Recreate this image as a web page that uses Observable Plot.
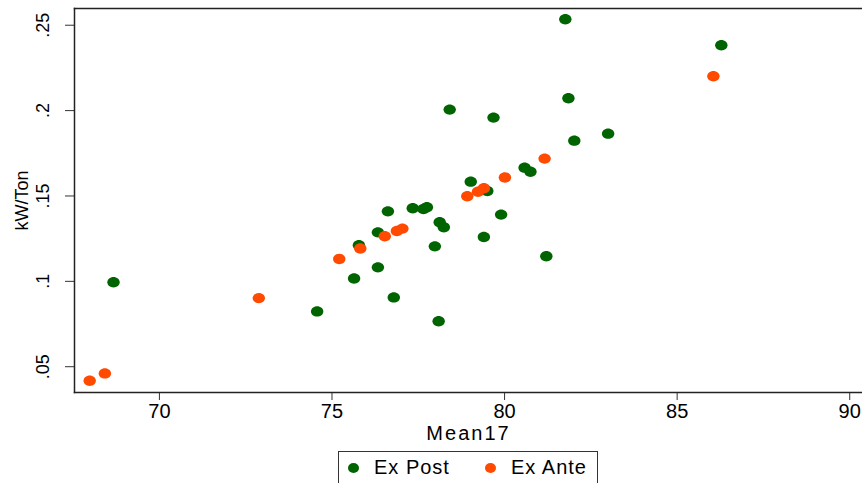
<!DOCTYPE html>
<html>
<head>
<meta charset="utf-8">
<script src="https://cdn.jsdelivr.net/npm/d3@7"></script>
<script src="https://cdn.jsdelivr.net/npm/@observablehq/plot@0.6"></script>
<style>
  html, body { margin: 0; padding: 0; background: #fff; overflow: hidden; }
  body { width: 862px; height: 483px; font-family: "Liberation Sans", Arial, sans-serif; }
  #legend {
    position: absolute; left: 338px; top: 451px; width: 260px; height: 40px;
    border: 1px solid #333; box-sizing: border-box; font-size: 20px; color: #000; letter-spacing: 1px;
  }
  #legend .item { position: absolute; top: 4px; display: flex; align-items: center; }
  #legend .sw { width: 11px; height: 10px; border-radius: 50%; margin-right: 15px; }
  .xtitle { letter-spacing: 2px; }
</style>
</head>
<body>
<div id="chart"></div>
<div id="legend"></div>
<script>
// Series names and colours
const seriesNames = ["Ex Post", "Ex Ante"];
const seriesColors = ["#006400", "#ff4a00"];

// Ex Post (green) points: Mean17 and kW/Ton
const expostX = [68.67, 81.76, 86.28, 81.85, 78.41, 79.68, 83.00, 82.02, 80.58, 80.75,
                 79.02, 79.50, 77.34, 77.65, 77.75, 76.62, 78.12, 78.24, 79.90, 79.40,
                 81.21, 77.98, 76.33, 75.78, 76.33, 75.64, 76.79, 74.57, 78.09];
const expostY = [0.0995, 0.2535, 0.2383, 0.2072, 0.2006, 0.1959, 0.1865, 0.1824, 0.1666, 0.1642,
                 0.1584, 0.1529, 0.1428, 0.1424, 0.1434, 0.1410, 0.1346, 0.1317, 0.1391, 0.1260,
                 0.1147, 0.1205, 0.1287, 0.1211, 0.1082, 0.1017, 0.0906, 0.0824, 0.0766];

// Ex Ante (orange) points
const exanteX = [67.98, 68.42, 72.88, 75.21, 75.82, 76.53, 76.88, 77.04, 78.92, 79.23,
                 79.40, 80.01, 81.16, 86.05];
const exanteY = [0.0418, 0.0461, 0.0902, 0.1131, 0.1192, 0.1264, 0.1295, 0.1309, 0.1498, 0.1525,
                 0.1545, 0.1608, 0.1719, 0.2201];

// Axes
const xTicks = [70, 75, 80, 85, 90];
const yTicks = [0.05, 0.10, 0.15, 0.20, 0.25];
const yTickLabels = [".05", ".1", ".15", ".2", ".25"];
const xTitle = "Mean17";
const yTitle = "kW/Ton";

const expost = expostX.map((x, i) => ({x, y: expostY[i], s: seriesNames[0]}));
const exante = exanteX.map((x, i) => ({x, y: exanteY[i], s: seriesNames[1]}));
const yLab = yTicks.map((v, i) => ({v, t: yTickLabels[i]}));

// ellipse marker (Stata-like)
const ellipse = {
  draw(ctx, size) {
    const rx = 6.2, ry = 5.2, k = 0.5523;
    ctx.moveTo(rx, 0);
    ctx.bezierCurveTo(rx, ry * k, rx * k, ry, 0, ry);
    ctx.bezierCurveTo(-rx * k, ry, -rx, ry * k, -rx, 0);
    ctx.bezierCurveTo(-rx, -ry * k, -rx * k, -ry, 0, -ry);
    ctx.bezierCurveTo(rx * k, -ry, rx, -ry * k, rx, 0);
    ctx.closePath();
  }
};

const chart = Plot.plot({
  width: 862,
  height: 451,
  marginLeft: 74,
  marginRight: 0,
  marginTop: 8,
  marginBottom: 59,
  style: {fontFamily: "Liberation Sans, Arial, sans-serif", fontSize: "18px", color: "#000", background: "#fff"},
  x: {domain: [67.54, 90.37]},
  y: {domain: [0.0349, 0.2598]},
  color: {domain: seriesNames, range: seriesColors},
  marks: [
    Plot.dot(expost, {x: "x", y: "y", fill: "s", stroke: "none", symbol: ellipse, r: 6}),
    Plot.dot(exante, {x: "x", y: "y", fill: "s", stroke: "none", symbol: ellipse, r: 6}),
    Plot.axisX({ticks: xTicks, tickSize: 8, tickPadding: 3, tickFormat: d => String(d), label: null, fontSize: 20, stroke: "#333"}),
    Plot.axisY({ticks: yTicks, tickSize: 9, tickFormat: () => "", label: null, stroke: "#333"}),
    Plot.text(yLab, {y: "v", text: "t", frameAnchor: "left", dx: -31, rotate: -90, textAnchor: "middle", lineAnchor: "middle", fontSize: 18, fill: "#000"}),
    Plot.text([yTitle], {frameAnchor: "left", dx: -52, rotate: -90, textAnchor: "middle", lineAnchor: "middle", fontSize: 18, fill: "#000"}),
    Plot.text([xTitle], {frameAnchor: "bottom", dy: 41, textAnchor: "middle", lineAnchor: "middle", fontSize: 20, fill: "#000", className: "xtitle"}),
    Plot.frame({anchor: "left", stroke: "#222", strokeWidth: 1.5}),
    Plot.frame({anchor: "top", stroke: "#222", strokeWidth: 1.5}),
    Plot.frame({anchor: "bottom", stroke: "#222", strokeWidth: 1.5})
  ]
});
document.getElementById("chart").appendChild(chart);
// widen x-axis title like the reference
d3.select(chart).selectAll("text").filter(function () { return this.textContent === xTitle; })
  .style("letter-spacing", "2px");

// Legend
const legend = document.getElementById("legend");
const legendLeft = [9, 146];
seriesNames.forEach((name, i) => {
  const item = document.createElement("div");
  item.className = "item";
  item.style.left = legendLeft[i] + "px";
  const sw = document.createElement("span");
  sw.className = "sw";
  sw.style.background = seriesColors[i];
  const label = document.createElement("span");
  label.textContent = name;
  item.appendChild(sw);
  item.appendChild(label);
  legend.appendChild(item);
});
</script>
</body>
</html>
